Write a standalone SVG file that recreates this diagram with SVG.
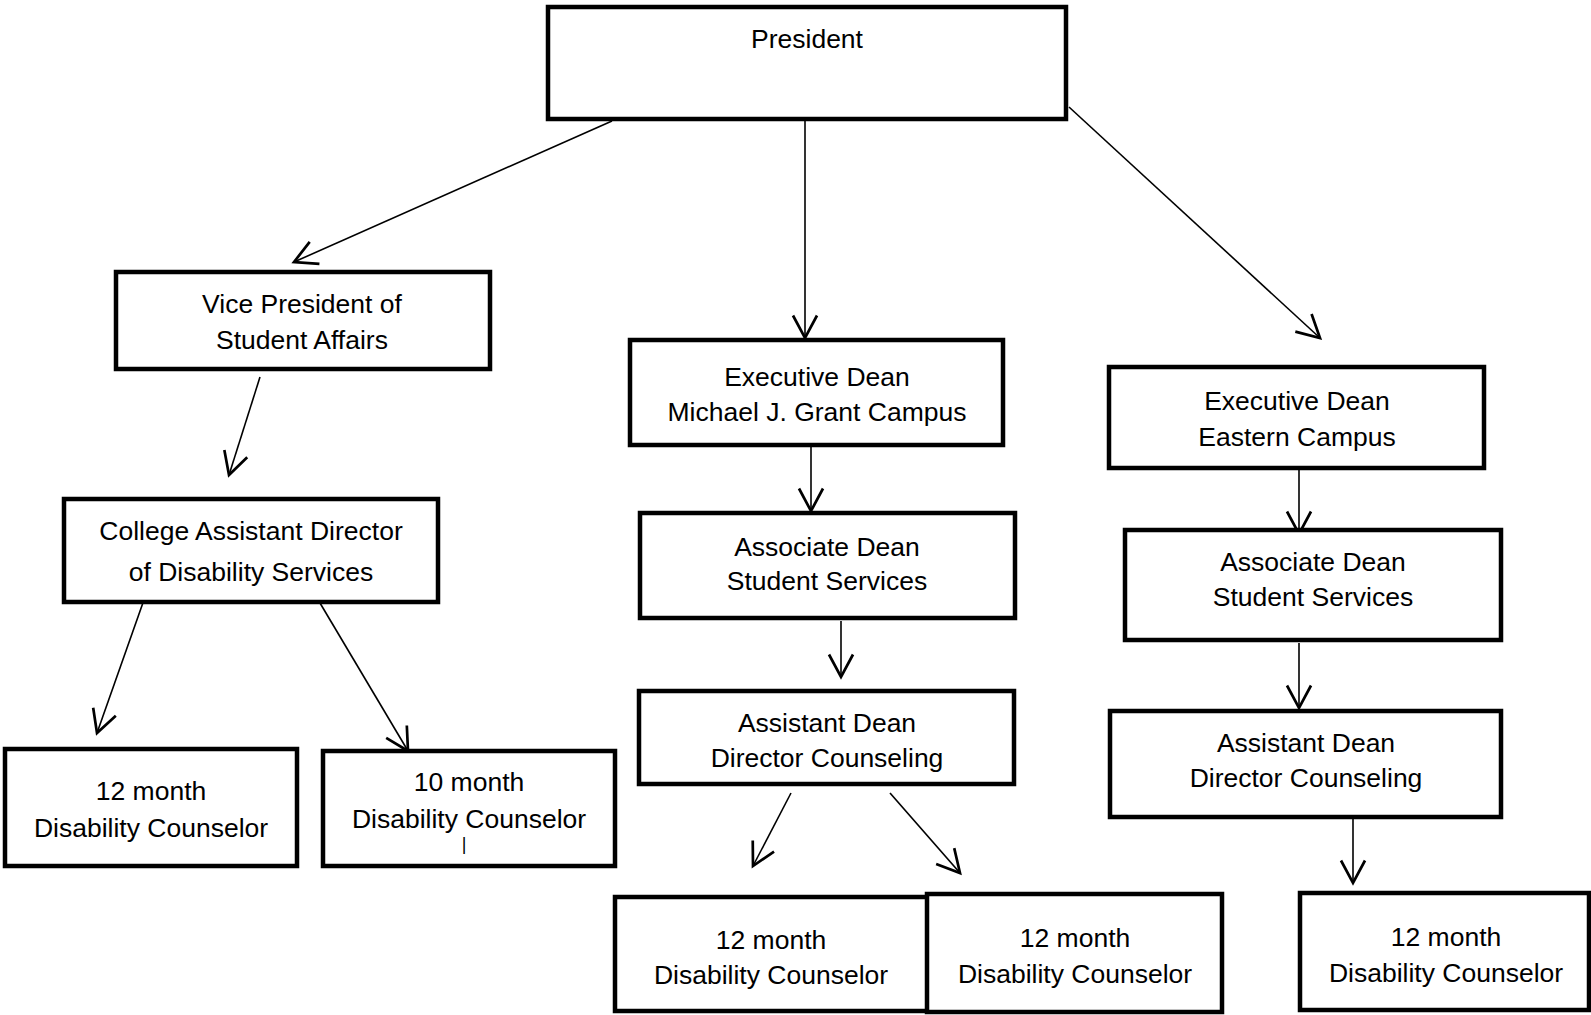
<svg xmlns="http://www.w3.org/2000/svg" width="1591" height="1015" viewBox="0 0 1591 1015">
<style>
.box{fill:#fff;stroke:#000;stroke-width:4.5}
text{font-family:"Liberation Sans",Arial,sans-serif;font-size:26.5px;fill:#000;text-anchor:middle}
.con line{stroke:#000;stroke-width:1.6;fill:none}
</style>
<defs>
<marker id="arr" markerUnits="userSpaceOnUse" markerWidth="30" markerHeight="30" viewBox="-16 -10 20 20" refX="0" refY="0" orient="auto" overflow="visible">
<path d="M-15,-8 L0,0 L-15,8" fill="none" stroke="#000" stroke-width="1.8"/>
</marker>
</defs>
<rect width="1591" height="1015" fill="#fff"/>
<g id="connectors" class="con">
<line x1="612" y1="121" x2="294" y2="262" marker-end="url(#arr)"/>
<line x1="805" y1="121" x2="805" y2="338" marker-end="url(#arr)"/>
<line x1="1069" y1="107" x2="1320" y2="338" marker-end="url(#arr)"/>
<line x1="260" y1="377" x2="229" y2="475" marker-end="url(#arr)"/>
<line x1="145" y1="597" x2="97" y2="733" marker-end="url(#arr)"/>
<line x1="320" y1="603" x2="408" y2="751" marker-end="url(#arr)"/>
<line x1="811" y1="447" x2="811" y2="511" marker-end="url(#arr)"/>
<line x1="841" y1="621" x2="841" y2="677" marker-end="url(#arr)"/>
<line x1="791" y1="793" x2="753" y2="866" marker-end="url(#arr)"/>
<line x1="890" y1="793" x2="960" y2="873" marker-end="url(#arr)"/>
<line x1="1299" y1="470" x2="1299" y2="534" marker-end="url(#arr)"/>
<line x1="1299" y1="643" x2="1299" y2="708" marker-end="url(#arr)"/>
<line x1="1353" y1="819" x2="1353" y2="883" marker-end="url(#arr)"/>
</g>
<g id="president"><rect class="box" x="548" y="7" width="518" height="112"/><text x="807" y="48">President</text></g>
<g id="vp"><rect class="box" x="116" y="272" width="374" height="97"/><text x="302" y="313">Vice President of</text><text x="302" y="349">Student Affairs</text></g>
<g id="cad"><rect class="box" x="64" y="499" width="374" height="103"/><text x="251" y="540">College Assistant Director</text><text x="251" y="581">of Disability Services</text></g>
<g id="dc12-left"><rect class="box" x="5" y="749" width="292" height="117"/><text x="151" y="800">12 month</text><text x="151" y="837">Disability Counselor</text></g>
<g id="dc10"><rect class="box" x="323" y="751" width="292" height="115"/><text x="469" y="791">10 month</text><text x="469" y="828">Disability Counselor</text><text x="464" y="850" style="font-size:18px">|</text></g>
<g id="exec-mjg"><rect class="box" x="630" y="340" width="373" height="105"/><text x="817" y="386">Executive Dean</text><text x="817" y="421">Michael J. Grant Campus</text></g>
<g id="assoc-mid"><rect class="box" x="640" y="513" width="375" height="105"/><text x="827" y="556">Associate Dean</text><text x="827" y="590">Student Services</text></g>
<g id="asst-mid"><rect class="box" x="639" y="691" width="375" height="93"/><text x="827" y="732">Assistant Dean</text><text x="827" y="767">Director Counseling</text></g>
<g id="dc12-midleft"><rect class="box" x="615" y="897" width="313" height="114"/><text x="771" y="949">12 month</text><text x="771" y="984">Disability Counselor</text></g>
<g id="dc12-midright"><rect class="box" x="927" y="894" width="295" height="118"/><text x="1075" y="947">12 month</text><text x="1075" y="983">Disability Counselor</text></g>
<g id="exec-eastern"><rect class="box" x="1109" y="367" width="375" height="101"/><text x="1297" y="410">Executive Dean</text><text x="1297" y="446">Eastern Campus</text></g>
<g id="assoc-right"><rect class="box" x="1125" y="530" width="376" height="110"/><text x="1313" y="571">Associate Dean</text><text x="1313" y="606">Student Services</text></g>
<g id="asst-right"><rect class="box" x="1110" y="711" width="391" height="106"/><text x="1306" y="752">Assistant Dean</text><text x="1306" y="787">Director Counseling</text></g>
<g id="dc12-right"><rect class="box" x="1300" y="893" width="289" height="117"/><text x="1446" y="946">12 month</text><text x="1446" y="982">Disability Counselor</text></g>
</svg>
